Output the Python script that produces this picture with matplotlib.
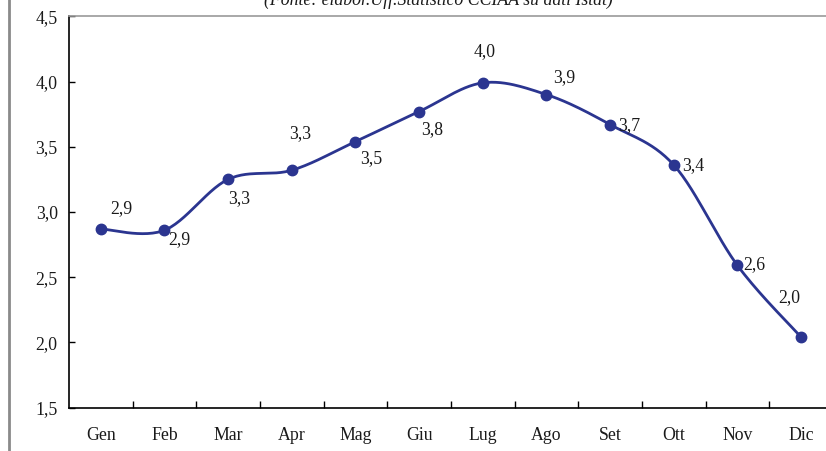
import numpy as np
import matplotlib
matplotlib.use("Agg")
import matplotlib.pyplot as plt
from matplotlib.lines import Line2D

months = ["Gen", "Feb", "Mar", "Apr", "Mag", "Giu", "Lug", "Ago", "Set", "Ott", "Nov", "Dic"]
values = [2.87, 2.86, 3.25, 3.32, 3.54, 3.77, 3.99, 3.90, 3.67, 3.36, 2.59, 2.04]
labels = ["2,9", "2,9", "3,3", "3,3", "3,5", "3,8", "4,0", "3,9", "3,7", "3,4", "2,6", "2,0"]
label_offsets = [(21, 20), (15, -9), (11, -19), (8, 37), (16, -17), (13, -18),
                 (2, 31), (18, 17), (19, -1), (19, -1), (17, 1), (-12, 40)]
yticks = [1.5, 2.0, 2.5, 3.0, 3.5, 4.0, 4.5]
ytick_labels = ["1,5", "2,0", "2,5", "3,0", "3,5", "4,0", "4,5"]
source = "(Fonte: elabor.Uff.Statistico CCIAA su dati Istat)"

plt.rcParams['font.family'] = ['Liberation Serif', 'DejaVu Serif']
FS = 12.8
color = "#2B3590"
tcol = "#1a1a1a"

fig = plt.figure(figsize=(8.26, 4.51), dpi=100)
ax = fig.add_axes([68.85 / 826, 43.3 / 451, (833 - 68.85) / 826, (407.7 - 16.3) / 451])

x = np.arange(len(values), dtype=float)
y = np.array(values, dtype=float)

# Catmull-Rom style smoothing (Excel-like) between the data points
P = np.column_stack([x, y])
Pext = np.vstack([P[0], P, P[-1]])
t = np.linspace(0, 1, 30)
segs = []
for i in range(len(P) - 1):
    p0, p1, p2, p3 = Pext[i], Pext[i + 1], Pext[i + 2], Pext[i + 3]
    c1 = p1 + (p2 - p0) / 6.0
    c2 = p2 - (p3 - p1) / 6.0
    b = ((1 - t) ** 3)[:, None] * p1 + (3 * (1 - t) ** 2 * t)[:, None] * c1 + \
        (3 * (1 - t) * t ** 2)[:, None] * c2 + (t ** 3)[:, None] * p2
    segs.append(b)
curve = np.vstack(segs)
ax.plot(curve[:, 0], curve[:, 1], color=color, lw=2.0, solid_capstyle='round', zorder=3)
ax.plot(x, y, 'o', color=color, ms=7.5, zorder=4)

for xi, yi, lab, (dx, dy) in zip(x, y, labels, label_offsets):
    ax.annotate(lab, (xi, yi), xytext=(dx, dy), textcoords='offset pixels',
                ha='center', va='center', fontsize=FS, color=tcol)

ax.set_xlim(-0.5, len(values) - 0.5)
ax.set_ylim(1.5, 4.5)
ax.set_yticks(yticks)
ax.set_yticklabels(ytick_labels, fontsize=FS, color=tcol)
ax.set_xticks(x)
ax.set_xticklabels(months, fontsize=FS, color=tcol)
ax.tick_params(axis='x', length=0, pad=14)
ax.set_xticks(np.arange(0.5, len(values) - 0.5, 1.0), minor=True)
ax.tick_params(axis='x', which='minor', direction='in', length=5, width=1.0, color='black')
ax.tick_params(axis='y', direction='in', length=4, width=1.0, pad=8)

for s in ['left', 'bottom']:
    ax.spines[s].set_color('black')
    ax.spines[s].set_linewidth(1.2)
ax.spines['top'].set_color('#9a9a9a')
ax.spines['top'].set_linewidth(1.2)
ax.spines['right'].set_visible(False)

# left frame line
fig.add_artist(Line2D([9 / 826, 9 / 826], [0, 1], transform=fig.transFigure,
                      color='#8a8a8a', lw=2.0))
# cut-off source line at the top
fig.text(438 / 826, 1 - 5 / 451, source, ha='center', va='baseline',
         fontsize=FS, style='italic', color=tcol)

fig.savefig("out.png", dpi=100)
